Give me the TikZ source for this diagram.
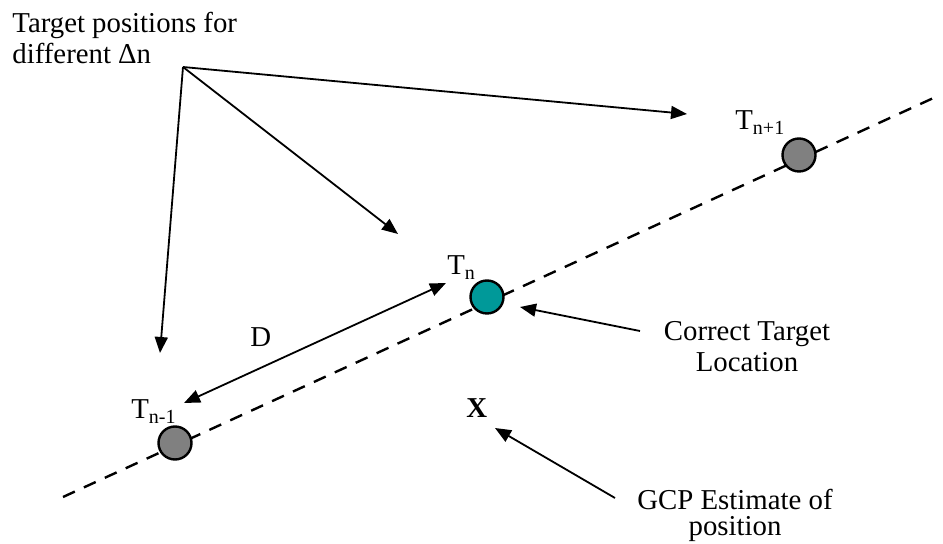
\documentclass[tikz,border=0pt]{standalone}
\usepackage{fontspec}
\setmainfont{Liberation Serif}
\usetikzlibrary{arrows.meta}

\begin{document}
\begin{tikzpicture}[
                x=0.5pt, y=-0.5pt,
                lbl/.style={inner sep=0pt, font=\fontsize{14.4}{15.5}\selectfont},
                target/.style={circle, draw, line width=1.2pt, minimum size=16.5pt, inner sep=0pt},
                ptr/.style={-{Triangle[length=8pt, width=6.5pt]}, line width=0.9pt},
                track/.style={dash pattern=on 6.5pt off 5pt, line width=1.2pt}
            ]
                \useasboundingbox (0,0) rectangle (943,544);
                % dashed track and targets
                \coordinate (trackstart) at (63,497);
                \coordinate (trackend) at (940,95);
                \draw[track] (trackstart) -- (trackend);
                \node[target, fill={rgb,255:red,128;green,128;blue,128}] (tprev) at (175,443) {};
                \node[target, fill={rgb,255:red,0;green,153;blue,153}] (tcur) at (487,297) {};
                \node[target, fill={rgb,255:red,128;green,128;blue,128}] (tnext) at (799,155) {};

                % labels
                \node[lbl, anchor=north west, align=left] (title) at (12,12) {Target positions for\\different Δn};
                \node[lbl, anchor=base west] (lprev) at (131,419) {T\textsubscript{n-1}};
                \node[lbl, anchor=base west] (lcur) at (447,275) {T\textsubscript{n}};
                \node[lbl, anchor=base west] (lnext) at (735,130) {T\textsubscript{n+1}};
                \node[lbl, anchor=base west] (dist) at (250,347) {D};
                \node[lbl, anchor=base west, font=\fontsize{14.4}{15.5}\selectfont\bfseries] (gcp) at (466,418) {X};
                \node[lbl, anchor=north, align=center] (correct) at (747,321) {Correct Target\\Location};
                \node[lbl, anchor=north, align=center, font=\fontsize{14.4}{13}\selectfont] (estimate) at (735,489) {GCP Estimate of\\position};

                % arrows
                \coordinate (apex) at (183,67);
                \coordinate (tipnext) at (687,114);
                \coordinate (tipcur) at (398,234);
                \coordinate (tipprev) at (160,353);
                \draw[ptr] (apex) -- (tipnext);
                \draw[ptr] (apex) -- (tipcur);
                \draw[ptr] (apex) -- (tipprev);
                \coordinate (dfrom) at (184,403);
                \coordinate (dto) at (446,283);
                \draw[ptr, {Triangle[length=8pt, width=6.5pt]}-{Triangle[length=8pt, width=6.5pt]}] (dfrom) -- (dto);
                \coordinate (ctail) at (640,331);
                \coordinate (ctip) at (520,307);
                \draw[ptr] (ctail) -- (ctip);
                \coordinate (gtail) at (615,498);
                \coordinate (gtip) at (495,428);
                \draw[ptr] (gtail) -- (gtip);
            \end{tikzpicture}
\end{document}
